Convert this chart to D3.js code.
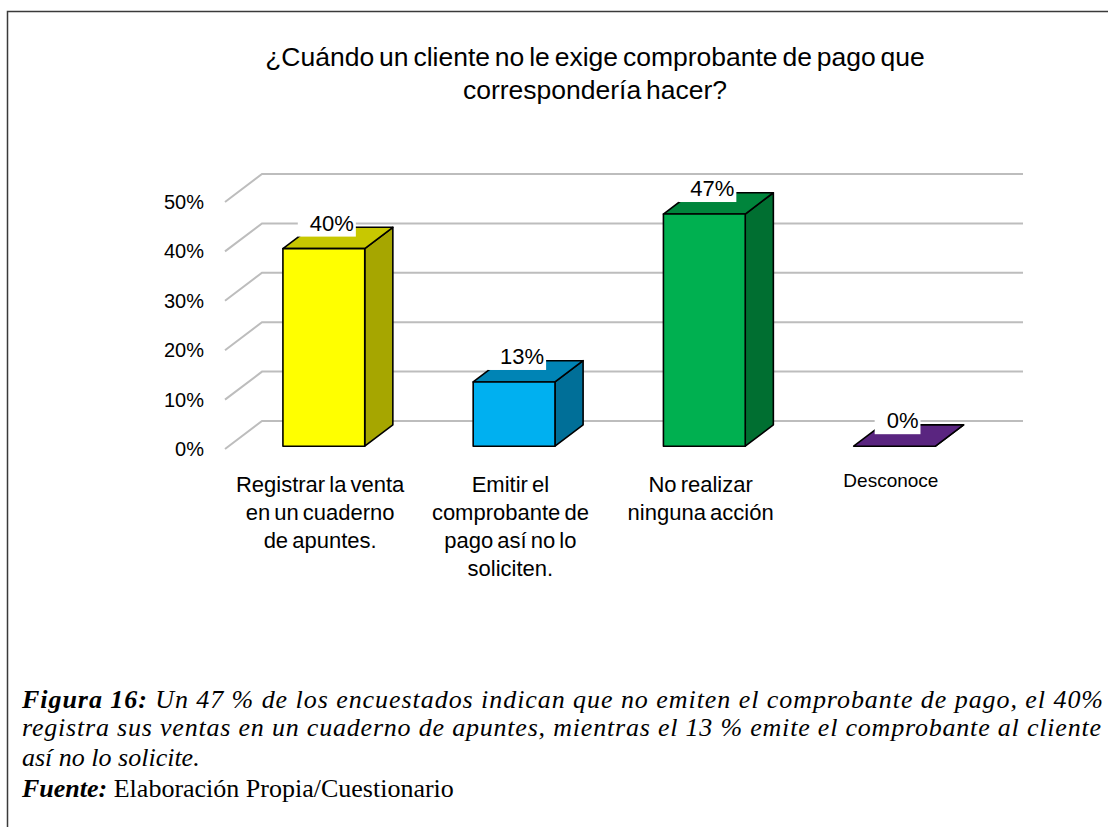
<!DOCTYPE html>
<html>
<head>
<meta charset="utf-8">
<script src="https://cdn.jsdelivr.net/npm/d3@7"></script>
<style>
  body { margin: 0; background: #fff; }
  text { font-family: Arial, "Liberation Sans", sans-serif; fill: #000; }
  .caption text { font-family: "Liberation Serif", "Times New Roman", serif; }
</style>
</head>
<body>
<svg id="chart"></svg>
<script>
// data
const categories = [
  ["Registrar la venta", "en un cuaderno", "de apuntes."],
  ["Emitir el", "comprobante de", "pago así no lo", "soliciten."],
  ["No realizar", "ninguna acción"],
  ["Desconoce"]
];
const values = [0.40, 0.13, 0.47, 0];
const valueLabels = ["40%", "13%", "47%", "0%"];
const yTicks = [0, 0.1, 0.2, 0.3, 0.4, 0.5];
const titleLines = ["¿Cuándo un cliente no le exige comprobante de pago que", "correspondería hacer?"];
const captionLines = [
  "Un 47 % de los encuestados indican que no emiten el comprobante de pago, el 40%",
  "registra sus ventas en un cuaderno de apuntes, mientras el 13 % emite el comprobante al cliente",
  "así no lo solicite."
];
const sourceText = "Elaboración Propia/Cuestionario";

// face colours: front, side, top
const colors = [
  {front: "#ffff00", side: "#a6a600", top: "#c8c800"},
  {front: "#00b0f0", side: "#006f98", top: "#0084b5"},
  {front: "#00b050", side: "#006f31", top: "#00853c"},
  {front: "#7030a0", side: "#43205f", top: "#5a2580"}
];

const W = 1108, H = 827;
const svg = d3.select("#chart").attr("width", W).attr("height", H);

// frame
svg.append("path")
  .attr("d", "M7.5," + H + "V11.5H" + W)
  .attr("fill", "none").attr("stroke", "#3a3a3a").attr("stroke-width", 1.5);

// title
svg.append("g").selectAll("text")
  .data(titleLines).enter().append("text")
  .attr("x", 595).attr("y", (d, i) => 66 + i * 33)
  .attr("text-anchor", "middle")
  .style("font-size", "26.5px")
  .style("word-spacing", "-2.5px")
  .text(d => d);

// 3d layout
const dx = 37, dy = -28;          // floor depth
const z1 = 0.1, z2 = 0.86;        // bar depth range
const y = d3.scaleLinear().domain([0, 0.5]).range([449, 202]);
const x = d3.scaleBand().domain(d3.range(categories.length))
  .range([225, 986]).paddingInner(0.57).paddingOuter(0.285);
const bw = x.bandwidth();

// gridlines (side wall + back wall)
svg.append("g").selectAll("path")
  .data(yTicks).enter().append("path")
  .attr("d", d => "M225," + y(d) + "L" + (225 + dx) + "," + (y(d) + dy) + "H1023")
  .attr("fill", "none").attr("stroke", "#bdbdbd").attr("stroke-width", 2);

// y axis
const yAxis = svg.append("g")
  .attr("transform", "translate(225,0)")
  .call(d3.axisLeft(y).tickValues(yTicks).tickFormat(d3.format(".0%")).tickSize(0).tickPadding(21));
yAxis.select(".domain").remove();
yAxis.selectAll("text").style("font-size", "20px").style("font-family", "Arial, 'Liberation Sans', sans-serif").attr("fill", "#000");

// bars
const bars = svg.append("g").selectAll("g")
  .data(values).enter().append("g");

function geom(v, i) {
  const xl = x(i) + z1 * dx, xr = xl + bw;
  const yb = y(0) + z1 * dy, yt = y(v) + z1 * dy;
  const ox = (z2 - z1) * dx, oy = (z2 - z1) * dy;
  return {xl, xr, yb, yt, ox, oy};
}

bars.each(function(v, i) {
  const g = d3.select(this), b = geom(v, i), c = colors[i];
  const poly = pts => pts.map(p => p.join(",")).join(" ");
  g.append("polygon")
    .attr("points", poly([[b.xr, b.yt], [b.xr + b.ox, b.yt + b.oy], [b.xr + b.ox, b.yb + b.oy], [b.xr, b.yb]]))
    .attr("fill", c.side);
  g.append("polygon")
    .attr("points", poly([[b.xl, b.yt], [b.xl + b.ox, b.yt + b.oy], [b.xr + b.ox, b.yt + b.oy], [b.xr, b.yt]]))
    .attr("fill", c.top);
  g.append("rect")
    .attr("x", b.xl).attr("y", b.yt)
    .attr("width", bw).attr("height", b.yb - b.yt)
    .attr("fill", c.front);
  g.selectAll("polygon, rect")
    .attr("stroke", "#000").attr("stroke-width", 1.6).attr("stroke-linejoin", "round");
});

// data labels with white box
bars.each(function(v, i) {
  const g = d3.select(this), b = geom(v, i);
  const box = g.append("rect").attr("fill", "#fff");
  const t = g.append("text")
    .attr("x", b.xl + bw / 2 + 8).attr("y", b.yt - 18)
    .attr("text-anchor", "middle")
    .style("font-size", "22px")
    .text(valueLabels[i]);
  const bb = t.node().getBBox();
  box.attr("x", bb.x - 12).attr("y", bb.y + 2)
    .attr("width", bb.width + 14).attr("height", (b.yt - 12) - (bb.y + 2));
});

// category labels
const cat = svg.append("g").selectAll("text")
  .data(categories).enter().append("text")
  .attr("text-anchor", "middle")
  .style("font-size", (d, i) => i === 3 ? "19px" : "22px")
  .style("word-spacing", "-2px");
cat.selectAll("tspan")
  .data((d, i) => d.map(s => ({s, i})))
  .enter().append("tspan")
  .attr("x", d => x(d.i) + bw / 2)
  .attr("y", (d, k) => (d.i === 3 ? 487 : 492) + k * 28)
  .text(d => d.s);

// caption
const cap = svg.append("g").attr("class", "caption").style("font-size", "26px");
const l1 = cap.append("text").attr("x", 22).attr("y", 708)
  .attr("textLength", 1081).attr("lengthAdjust", "spacing");
l1.append("tspan").style("font-weight", "bold").style("font-style", "italic").text("Figura 16:");
l1.append("tspan").style("font-style", "italic").text(" " + captionLines[0]);
cap.append("text").attr("x", 22).attr("y", 736)
  .attr("textLength", 1079).attr("lengthAdjust", "spacing")
  .style("font-style", "italic").text(captionLines[1]);
cap.append("text").attr("x", 22).attr("y", 766)
  .style("font-style", "italic").text(captionLines[2]);
const l4 = cap.append("text").attr("x", 22).attr("y", 797);
l4.append("tspan").style("font-weight", "bold").style("font-style", "italic").text("Fuente:");
l4.append("tspan").text(" " + sourceText);
</script>
</body>
</html>
